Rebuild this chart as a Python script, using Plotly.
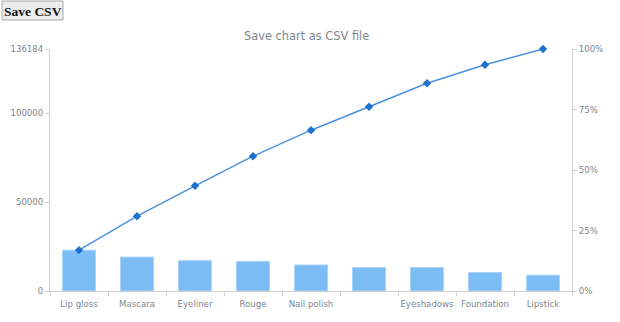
import numpy as np
import plotly.graph_objects as go

categories = ["Lip gloss", "Mascara", "Eyeliner", "Rouge", "Nail polish",
              "Eyebrow pencil", "Eyeshadows", "Foundation", "Lipstick"]
tick_labels = ["Lip gloss", "Mascara", "Eyeliner", "Rouge", "Nail polish",
               "", "Eyeshadows", "Foundation", "Lipstick"]
values = [22998, 19088, 17085, 16695, 14636, 13189, 13182, 10407, 8904]
left_ticks = [0, 50000, 100000, 136184]
right_ticks = [0, 25, 50, 75, 100]

total = sum(values)
cum_pct = list(np.cumsum(values) / total * 100)

W, H = 620, 322
ML, MR, MT, MB = 50, 48, 49, 31
PW, PH = W - ML - MR, H - MT - MB

def px_x(p):
    return (p - ML) / PW

def px_y(p):
    return 1 - (p - MT) / PH

GRAY = "#7c868e"
AXIS = "#d0d0d0"
FONT = "DejaVu Sans"
TF = dict(family=FONT, size=8.6, color=GRAY)

fig = go.Figure()
fig.add_trace(go.Bar(
    x=categories, y=values,
    marker=dict(color="#7dbdf6", line=dict(color="#a9d3fa", width=1)),
    yaxis="y", hoverinfo="x+y",
))
fig.add_trace(go.Scatter(
    x=categories, y=cum_pct, yaxis="y2", mode="lines+markers",
    line=dict(color="#4a90e2", width=1.5),
    marker=dict(symbol="diamond", size=6.5, color="#1f72cc"),
    cliponaxis=False,
))

fig.update_layout(
    width=W, height=H,
    margin=dict(l=ML, r=MR, t=MT, b=MB),
    paper_bgcolor="white", plot_bgcolor="white",
    showlegend=False,
    bargap=0.43,
    font=dict(family=FONT, size=10, color=GRAY),
    xaxis=dict(
        type="category", tickmode="array", tickvals=categories, ticktext=tick_labels,
        tickson="boundaries", ticks="outside", ticklen=4, tickcolor=AXIS,
        showline=True, linecolor=AXIS, linewidth=1, showgrid=False,
        range=[-0.5, len(categories) - 0.5], tickangle=0, automargin=False,
        tickfont=TF, ticklabelstandoff=5,
    ),
    yaxis=dict(
        range=[0, total], tickmode="array", tickvals=left_ticks,
        ticktext=[str(v) for v in left_ticks],
        ticks="outside", ticklen=4, tickcolor=AXIS, automargin=False,
        showline=True, linecolor=AXIS, linewidth=1, showgrid=False, zeroline=False,
        tickfont=TF,
    ),
    yaxis2=dict(
        overlaying="y", side="right", range=[0, 100], tickmode="array",
        tickvals=right_ticks, ticktext=[f"{v}%" for v in right_ticks],
        ticks="outside", ticklen=4, tickcolor=AXIS, automargin=False,
        showline=True, linecolor=AXIS, linewidth=1, showgrid=False, zeroline=False,
        tickfont=TF,
    ),
    annotations=[
        dict(text="Save chart as CSV file", xref="paper", yref="paper",
             x=px_x(306), y=px_y(36), xanchor="center", yanchor="middle",
             showarrow=False, font=dict(family=FONT, size=11.4, color=GRAY)),
        dict(text="<b>Save CSV</b>", xref="paper", yref="paper",
             x=px_x(32.5), y=px_y(11), xanchor="center", yanchor="middle",
             showarrow=False, font=dict(family="Liberation Serif", size=13.5, color="#111111")),
    ],
    shapes=[
        dict(type="rect", xref="paper", yref="paper",
             x0=px_x(2), x1=px_x(63), y0=px_y(20), y1=px_y(1),
             fillcolor="#ececec", line=dict(color="#a8a8a8", width=1), layer="below"),
    ],
)

fig.write_html("out.html")
